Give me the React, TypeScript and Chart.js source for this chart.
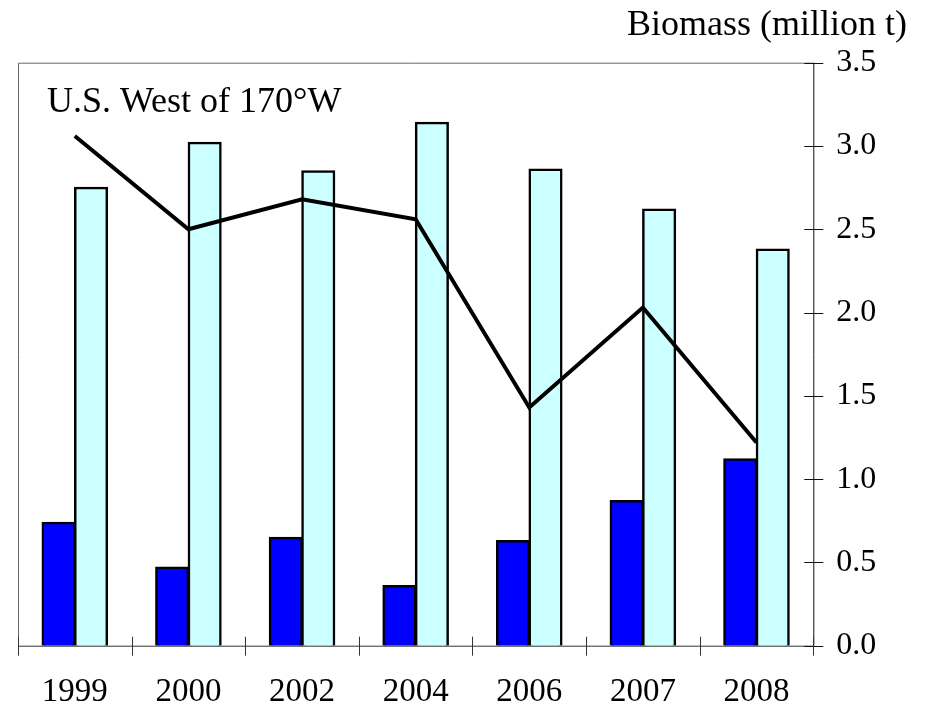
import React, { useEffect, useRef } from "react";
import { Chart, registerables } from "chart.js";

Chart.register(...registerables);

const years = ["1999", "2000", "2002", "2004", "2006", "2007", "2008"];
const darkBars = [0.74, 0.47, 0.65, 0.36, 0.63, 0.87, 1.12];
const lightBars = [2.75, 3.02, 2.85, 3.14, 2.86, 2.62, 2.38];
const lineValues = [3.06, 2.5, 2.68, 2.56, 1.43, 2.03, 1.22];
const yTicks = [0, 0.5, 1.0, 1.5, 2.0, 2.5, 3.0, 3.5];
const panelLabel = "U.S. West of 170°W";
const axisTitle = "Biomass (million t)";

const FONT = "'Liberation Serif', 'Times New Roman', serif";

const framePlugin = {
  id: "framePlugin",
  afterDatasetsDraw(chart: any) {
    const ctx = chart.ctx;
    const { left, right, top, bottom } = chart.chartArea;
    const xs = chart.scales.x;
    const ys = chart.scales.y;
    ctx.save();
    ctx.lineWidth = 1;
    ctx.strokeStyle = "#666666";
    ctx.beginPath();
    ctx.moveTo(left + 0.5, bottom);
    ctx.lineTo(left + 0.5, top + 0.5);
    ctx.lineTo(right, top + 0.5);
    ctx.stroke();
    ctx.strokeStyle = "#333333";
    ctx.beginPath();
    ctx.moveTo(left, bottom + 0.5);
    ctx.lineTo(right, bottom + 0.5);
    ctx.stroke();
    ctx.strokeStyle = "#111111";
    ctx.beginPath();
    ctx.moveTo(right + 0.5, top);
    ctx.lineTo(right + 0.5, bottom + 1);
    ctx.stroke();
    yTicks.forEach((v) => {
      const py = Math.round(ys.getPixelForValue(v)) + 0.5;
      ctx.beginPath();
      ctx.moveTo(right - 9, py);
      ctx.lineTo(right + 10, py);
      ctx.stroke();
    });
    const cw = xs.getPixelForValue(1) - xs.getPixelForValue(0);
    ctx.strokeStyle = "#333333";
    for (let i = 0; i <= years.length; i++) {
      const px = Math.round(xs.getPixelForValue(0) - cw / 2 + i * cw) + 0.5;
      ctx.beginPath();
      ctx.moveTo(px, bottom - 9);
      ctx.lineTo(px, bottom + 10);
      ctx.stroke();
    }
    ctx.restore();
  },
  afterDraw(chart: any) {
    const ctx = chart.ctx;
    ctx.save();
    ctx.fillStyle = "#000000";
    ctx.textBaseline = "alphabetic";
    ctx.font = `36px ${FONT}`;
    ctx.textAlign = "left";
    ctx.fillText(panelLabel, 47, 111.5);
    ctx.font = `36px ${FONT}`;
    ctx.textAlign = "right";
    ctx.fillText(axisTitle, 907, 35);
    ctx.restore();
  },
};

export default function App() {
  const canvasRef = useRef<HTMLCanvasElement | null>(null);

  useEffect(() => {
    if (!canvasRef.current) return;
    const barCommon = {
      borderColor: "#000000",
      borderWidth: { top: 2.5, left: 2.5, right: 2.5, bottom: 0 },
      borderSkipped: false,
      inflateAmount: 0.8,
      barPercentage: 1,
      categoryPercentage: 0.572,
      order: 1,
    };
    const chart = new Chart(canvasRef.current, {
      type: "bar",
      data: {
        labels: years,
        datasets: [
          {
            type: "line",
            label: "Line",
            data: lineValues,
            borderColor: "#000000",
            borderWidth: 4,
            pointRadius: 0,
            tension: 0,
            borderJoinStyle: "miter",
            borderCapStyle: "butt",
            fill: false,
            order: 0,
          } as any,
          {
            type: "bar",
            label: "Dark",
            data: darkBars,
            backgroundColor: "#0000FF",
            ...barCommon,
          } as any,
          {
            type: "bar",
            label: "Light",
            data: lightBars,
            backgroundColor: "#CCFFFF",
            ...barCommon,
          } as any,
        ],
      },
      options: {
        responsive: false,
        animation: false,
        layout: { padding: { left: 18, top: 62.7, right: 0, bottom: 0 } },
        plugins: {
          legend: { display: false },
          tooltip: { enabled: false },
          title: { display: false },
        },
        scales: {
          x: {
            grid: { display: false, drawTicks: false },
            border: { display: false },
            ticks: {
              color: "#000000",
              font: { family: FONT, size: 33 },
              padding: 27,
              maxRotation: 0,
            },
            afterFit: (scale: any) => {
              scale.height = 61.3;
            },
          },
          y: {
            position: "right",
            min: 0,
            max: 3.5,
            grid: { display: false, drawTicks: false },
            border: { display: false },
            ticks: {
              stepSize: 0.5,
              color: "#000000",
              font: { family: FONT, size: 32 },
              padding: 23,
              callback: (v: any) => Number(v).toFixed(1),
            },
            afterFit: (scale: any) => {
              scale.width = 111.7;
            },
          },
        },
      },
      plugins: [framePlugin],
    });
    return () => chart.destroy();
  }, []);

  return (
    <div style={{ position: "fixed", left: 0, top: 0, width: 925, height: 707, background: "#ffffff" }}>
      <canvas ref={canvasRef} width={925} height={707} />
    </div>
  );
}
